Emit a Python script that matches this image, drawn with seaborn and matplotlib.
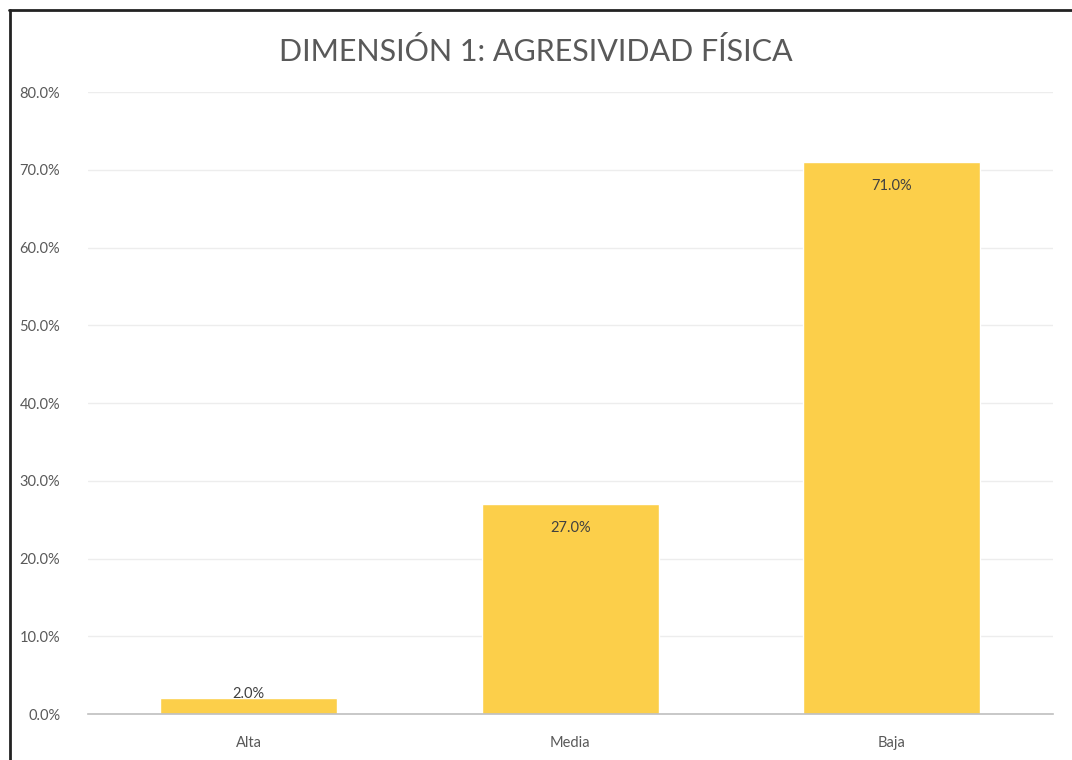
import numpy as np
import matplotlib
matplotlib.use("Agg")
import matplotlib.pyplot as plt
import seaborn as sns
import pandas as pd
from matplotlib.ticker import PercentFormatter
from matplotlib.lines import Line2D

categorias = ["Alta", "Media", "Baja"]
porcentajes = [0.02, 0.27, 0.71]
titulo = "DIMENSIÓN 1: AGRESIVIDAD FÍSICA"

sns.set_style("white")
plt.rcParams['font.family'] = ['Lato', 'DejaVu Sans']

df = pd.DataFrame({"nivel": categorias, "valor": porcentajes})

fig = plt.figure(figsize=(10.72, 7.6), dpi=100)
ax = fig.add_axes([0.0821, 0.0605, 0.8999, 0.8184])

sns.barplot(data=df, x="nivel", y="valor", color="#FCCF4A", saturation=1,
            width=0.55, ax=ax)

ax.set_ylim(0, 0.8)
ax.set_xlim(-0.5, 2.5)
ax.set_yticks(np.arange(0, 0.81, 0.1))
ax.yaxis.set_major_formatter(PercentFormatter(1.0, decimals=1))
ax.yaxis.grid(True, color="#EDEDED", lw=1)
ax.set_axisbelow(True)
for s in ["top", "right", "left"]:
    ax.spines[s].set_visible(False)
ax.spines["bottom"].set_color("#BFBFBF")
ax.spines["bottom"].set_linewidth(1.2)
ax.tick_params(axis="both", length=0, colors="#595959", labelsize=10.5)
ax.tick_params(axis="y", pad=20)
ax.tick_params(axis="x", pad=16)
ax.set_xlabel("")
ax.set_ylabel("")

for p, v in zip(ax.patches, porcentajes):
    x = p.get_x() + p.get_width() / 2
    dy = -17 if v > 0.05 else 3
    ax.annotate(f"{v*100:.1f}%", (x, v), xytext=(0, dy), textcoords="offset points",
                ha="center", va="center", fontsize=10.5, color="#404040")

fig.text(0.5, 0.932, titulo, ha="center", va="center", fontsize=22, color="#595959")

# marco del grafico
fig.add_artist(Line2D([0.0085, 1.0], [0.9875, 0.9875], transform=fig.transFigure,
                      color="#222222", lw=2))
fig.add_artist(Line2D([0.0092, 0.0092], [0.0, 0.9875], transform=fig.transFigure,
                      color="#222222", lw=2))

fig.savefig("out.png", dpi=100)
